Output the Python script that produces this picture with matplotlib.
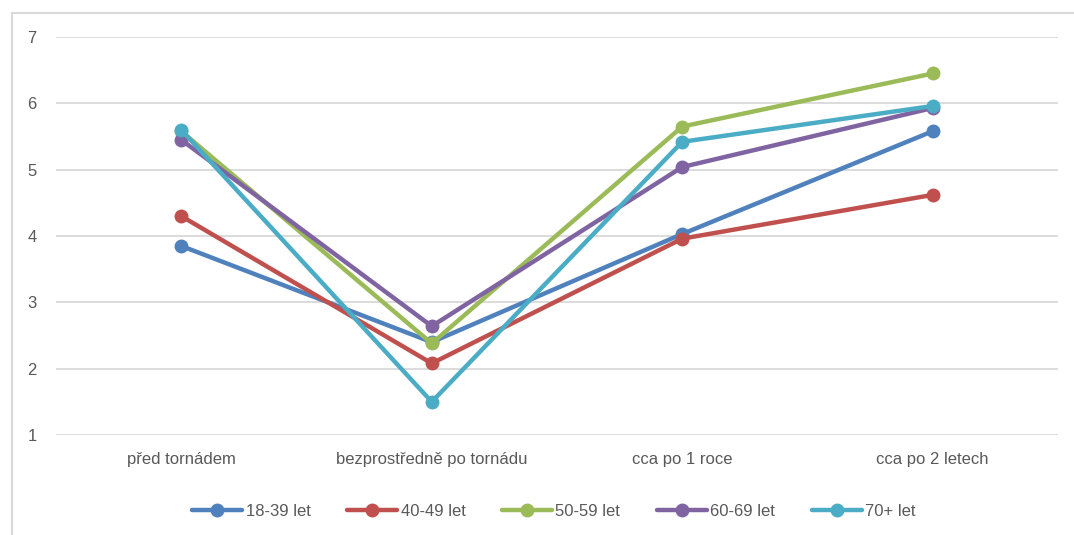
import matplotlib
matplotlib.use("Agg")
import matplotlib.pyplot as plt
from matplotlib.lines import Line2D

plt.rcParams['font.family'] = ['Liberation Sans', 'DejaVu Sans']

# categories and series values
categories = ["před tornádem", "bezprostředně po tornádu", "cca po 1 roce", "cca po 2 letech"]
series_names = ["18-39 let", "40-49 let", "50-59 let", "60-69 let", "70+ let"]
v_18_39 = [3.85, 2.40, 4.03, 5.58]
v_40_49 = [4.30, 2.08, 3.96, 4.62]
v_50_59 = [5.58, 2.38, 5.65, 6.45]
v_60_69 = [5.45, 2.64, 5.04, 5.93]
v_70 = [5.60, 1.50, 5.42, 5.96]
y_ticks = [1, 2, 3, 4, 5, 6, 7]

colors = ["#4F81BD", "#C0504D", "#9BBB59", "#8064A2", "#4BACC6"]
text_col = "#595959"

fig = plt.figure(figsize=(10.74, 5.35), dpi=100)
ax = fig.add_axes([56 / 1074, 1 - 435 / 535, 1002 / 1074, 398 / 535])

x = list(range(len(categories)))
for name, vals, c in zip(series_names, [v_18_39, v_40_49, v_50_59, v_60_69, v_70], colors):
    ax.plot(x, vals, color=c, lw=3.2, marker="o", ms=9, label=name,
            solid_capstyle="round")

ax.set_xlim(-0.5, len(categories) - 0.5)
ax.set_ylim(1, 7)
ax.set_yticks(y_ticks)
ax.set_xticks(x)
ax.set_xticklabels(categories)
ax.grid(axis="y", color="#D9D9D9", lw=1.3)
ax.set_axisbelow(True)
for s in ax.spines.values():
    s.set_visible(False)
ax.tick_params(axis="both", length=0, colors=text_col, labelsize=12)
ax.tick_params(axis="y", pad=14)
ax.tick_params(axis="x", pad=12)

ax.legend(loc="upper center", bbox_to_anchor=(0.497, -0.135), ncol=5, frameon=False,
          fontsize=12, labelcolor=text_col, handlelength=3, handletextpad=0.2,
          columnspacing=2.2)

# chart area border (only top and left edges visible in the crop)
bx, by = 11.5 / 1074, 1 - 12.5 / 535
fig.add_artist(Line2D([bx, 1], [by, by], transform=fig.transFigure, color="#D9D9D9", lw=1.5))
fig.add_artist(Line2D([bx, bx], [0, by], transform=fig.transFigure, color="#D9D9D9", lw=1.5))

fig.savefig("out.png", dpi=100)
